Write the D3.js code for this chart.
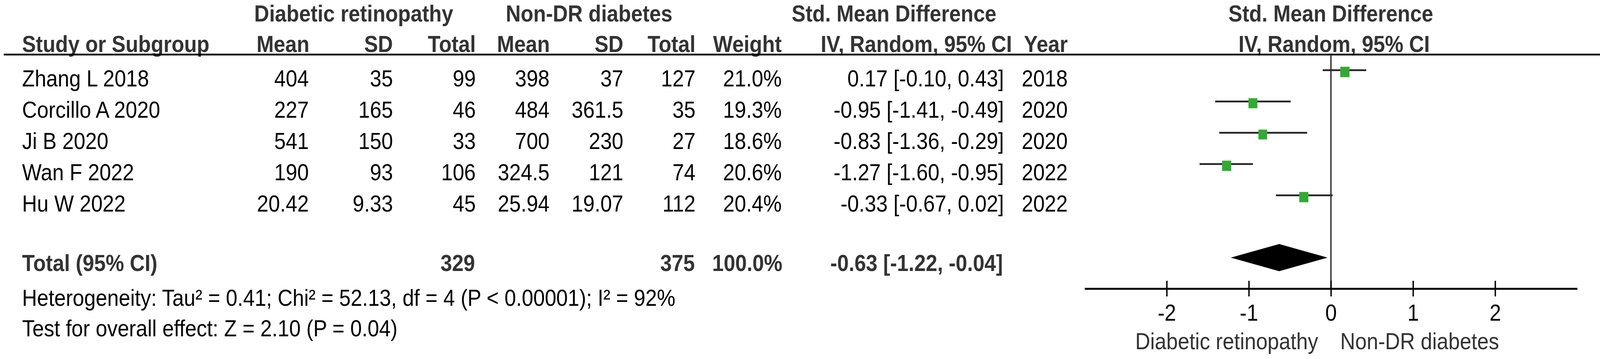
<!DOCTYPE html>
<html>
<head>
<meta charset="utf-8">
<script src="https://cdn.jsdelivr.net/npm/d3@7"></script>
<style>
html, body { margin: 0; padding: 0; background: #fff; overflow: hidden; }
svg { display: block; }
svg text { font-family: Arial, "Liberation Sans", sans-serif; font-size: 60px; }
.hd, .tot { font-weight: bold; fill: #333; }
.row { fill: #000; }
</style>
</head>
<body>
<div class="container"></div>
<script>
// ---------- DATA ----------
var studies = ["Zhang L 2018", "Corcillo A 2020", "Ji B 2020", "Wan F 2022", "Hu W 2022"];
var drMean = [404, 227, 541, 190, 20.42];
var drSD = [35, 165, 150, 93, 9.33];
var drTotal = [99, 46, 33, 106, 45];
var ndMean = [398, 484, 700, 324.5, 25.94];
var ndSD = [37, 361.5, 230, 121, 19.07];
var ndTotal = [127, 35, 27, 74, 112];
var weights = [21.0, 19.3, 18.6, 20.6, 20.4];
var smd = [0.17, -0.95, -0.83, -1.27, -0.33];
var ciLow = [-0.10, -1.41, -1.36, -1.60, -0.67];
var ciHigh = [0.43, -0.49, -0.29, -0.95, 0.02];
var years = [2018, 2020, 2020, 2022, 2022];

var totalDR = 329, totalND = 375, totalWeight = 100.0;
var pooled = [-0.63, -1.22, -0.04]; // smd, low, high
var heterogeneity = "Heterogeneity: Tau\u00b2 = 0.41; Chi\u00b2 = 52.13, df = 4 (P < 0.00001); I\u00b2 = 92%";
var overall = "Test for overall effect: Z = 2.10 (P = 0.04)";
var axisTicks = [-2, -1, 0, 1, 2];
var favLeft = "Diabetic retinopathy", favRight = "Non-DR diabetes";

// drawing is done in a 4638x918 coordinate space, scaled to the window
var width = 4638, height = 918;
var w = window,
    e = document.documentElement,
    vw = w.innerWidth || e.clientWidth,
    vh = w.innerHeight || e.clientHeight;

var svg = d3.select(".container").append("svg")
    .attr("width", vw)
    .attr("height", vh)
    .attr("viewBox", "0 0 " + width + " " + height)
    .attr("preserveAspectRatio", "none");

// scales
var x = d3.scaleLinear().domain([-3, 3]).range([3144, 4572]);
var y = d3.scalePoint().domain(studies).range([179.5, 499.5]);
var boxSize = d3.scaleSqrt().domain([0, 100]).range([0, 58.3]);

function f2(v) { return v.toFixed(2) }
function ciText(m, lo, hi) { return f2(m) + " [" + f2(lo) + ", " + f2(hi) + "]" }

// ---------- HEADER ----------
var head1 = [
  {t: "Diabetic retinopathy", x: 737, a: "start"},
  {t: "Non-DR diabetes", x: 1466, a: "start"},
  {t: "Std. Mean Difference", x: 2295, a: "start"},
  {t: "Std. Mean Difference", x: 3561, a: "start"}
];
var head2 = [
  {t: "Study or Subgroup", x: 64, a: "start"},
  {t: "Mean", x: 897, a: "end"},
  {t: "SD", x: 1139, a: "end"},
  {t: "Total", x: 1379, a: "end"},
  {t: "Mean", x: 1594, a: "end"},
  {t: "SD", x: 1807, a: "end"},
  {t: "Total", x: 2016, a: "end"},
  {t: "Weight", x: 2266, a: "end"},
  {t: "IV, Random, 95% CI", x: 2379, a: "start"},
  {t: "Year", x: 3095, a: "end"},
  {t: "IV, Random, 95% CI", x: 3590, a: "start"}
];

svg.append("g").selectAll("text")
  .data(head1).enter().append("text")
  .attr("class", "hd")
  .attr("x", function(d) { return d.x })
  .attr("y", 55)
  .attr("text-anchor", function(d) { return d.a })
  .text(function(d) { return d.t });

svg.append("g").selectAll("text")
  .data(head2).enter().append("text")
  .attr("class", "hd")
  .attr("x", function(d) { return d.x })
  .attr("y", 133)
  .attr("text-anchor", function(d) { return d.a })
  .text(function(d) { return d.t });

svg.append("line")
  .attr("x1", 11).attr("x2", width)
  .attr("y1", 139.5).attr("y2", 139.5)
  .attr("stroke", "#000")
  .attr("stroke-width", 4.5);

// ---------- STUDY ROWS ----------
var columns = [
  {x: 895, v: function(i) { return String(drMean[i]) }},
  {x: 1139, v: function(i) { return String(drSD[i]) }},
  {x: 1379, v: function(i) { return String(drTotal[i]) }},
  {x: 1593, v: function(i) { return String(ndMean[i]) }},
  {x: 1807, v: function(i) { return String(ndSD[i]) }},
  {x: 2016, v: function(i) { return String(ndTotal[i]) }},
  {x: 2266, v: function(i) { return weights[i].toFixed(1) + "%" }},
  {x: 2910, v: function(i) { return ciText(smd[i], ciLow[i], ciHigh[i]) }},
  {x: 3095, v: function(i) { return String(years[i]) }}
];

var rows = svg.append("g").selectAll("g")
  .data(studies).enter().append("g")
  .attr("transform", function(d) { return "translate(0," + (y(d) + 41) + ")" });

rows.append("text")
  .attr("class", "row")
  .attr("x", 64)
  .text(function(d) { return d });

columns.forEach(function(c) {
  rows.append("text")
    .attr("class", "row")
    .attr("x", c.x)
    .attr("text-anchor", "end")
    .text(function(d, i) { return c.v(i) });
});

// ---------- TOTAL ROW ----------
var totY = 693;
var totals = [
  {t: "Total (95% CI)", x: 64, a: "start"},
  {t: String(totalDR), x: 1377, a: "end"},
  {t: String(totalND), x: 2014, a: "end"},
  {t: totalWeight.toFixed(1) + "%", x: 2268, a: "end"},
  {t: ciText(pooled[0], pooled[1], pooled[2]), x: 2907, a: "end"}
];
svg.append("g").selectAll("text")
  .data(totals).enter().append("text")
  .attr("class", "tot")
  .attr("x", function(d) { return d.x })
  .attr("y", totY)
  .attr("text-anchor", function(d) { return d.a })
  .text(function(d) { return d.t });

svg.append("text").attr("class", "row").attr("x", 64).attr("y", 782).text(heterogeneity);
svg.append("text").attr("class", "row").attr("x", 64).attr("y", 860).text(overall);

// ---------- FOREST PLOT ----------
var axisY = 738;

svg.append("line")
  .attr("x1", x(0)).attr("x2", x(0))
  .attr("y1", 139.5).attr("y2", axisY)
  .attr("stroke", "#333")
  .attr("stroke-width", 4);

var plot = svg.append("g");

plot.selectAll(".ci")
  .data(studies).enter().append("line")
  .attr("class", "ci")
  .attr("x1", function(d, i) { return x(ciLow[i]) })
  .attr("x2", function(d, i) { return x(ciHigh[i]) })
  .attr("y1", function(d) { return y(d) })
  .attr("y2", function(d) { return y(d) })
  .attr("stroke", "#222")
  .attr("stroke-width", 4.5);

plot.selectAll(".box")
  .data(studies).enter().append("rect")
  .attr("class", "box")
  .attr("x", function(d, i) { return x(smd[i]) - boxSize(weights[i]) / 2 })
  .attr("y", function(d, i) { return y(d) + 4.5 - boxSize(weights[i]) / 2 })
  .attr("width", function(d, i) { return boxSize(weights[i]) })
  .attr("height", function(d, i) { return boxSize(weights[i]) })
  .attr("fill", "#33aa33");

var dY = 658.7, dH = 34.7;
plot.append("path")
  .attr("d", "M" + x(pooled[1]) + "," + dY +
             "L" + x(pooled[0]) + "," + (dY - dH) +
             "L" + x(pooled[2]) + "," + dY +
             "L" + x(pooled[0]) + "," + (dY + dH) + "Z")
  .attr("fill", "#000");

// axis
var axis = svg.append("g")
  .attr("transform", "translate(0," + axisY + ")")
  .call(d3.axisBottom(x).tickValues(axisTicks).tickSizeInner(20).tickSizeOuter(0)
    .tickFormat(function(d) { return String(d) }));

axis.select(".domain").attr("stroke", "#000").attr("stroke-width", 5);
axis.selectAll(".tick line").attr("y1", -20).attr("y2", 20)
  .attr("stroke", "#000").attr("stroke-width", 4);
axis.selectAll(".tick text")
  .attr("y", 82).attr("dy", null)
  .attr("fill", "#000")
  .style("font-size", "60px")
  .style("font-family", "Arial, 'Liberation Sans', sans-serif");

svg.append("text")
  .attr("x", x(0) - 37).attr("y", 893)
  .attr("text-anchor", "end")
  .attr("fill", "#333")
  .text(favLeft);

svg.append("text")
  .attr("x", x(0) + 27).attr("y", 893)
  .attr("fill", "#333")
  .text(favRight);
</script>
</body>
</html>
